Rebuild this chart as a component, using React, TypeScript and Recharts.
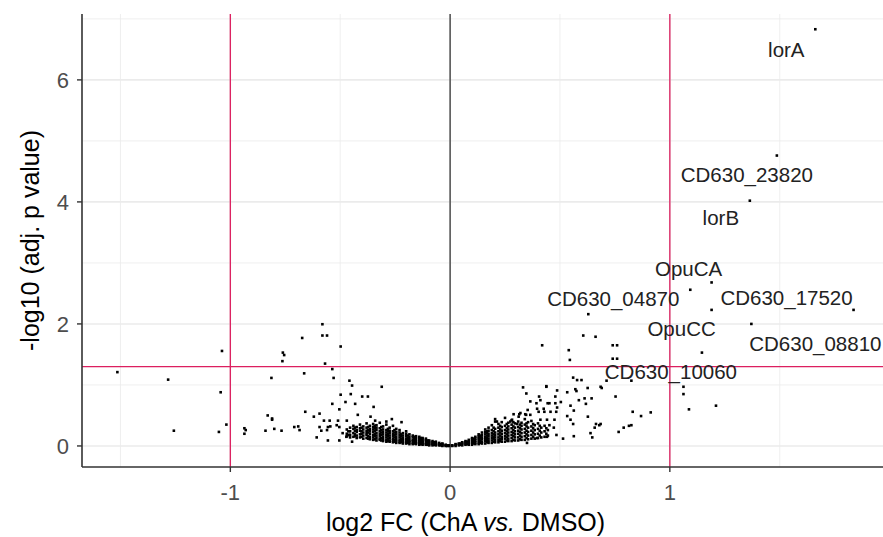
import React from 'react';
import { ScatterChart, Scatter, XAxis, YAxis, CartesianGrid, ReferenceLine } from 'recharts';

// log2 FC, -log10 adj. p
const leftOutliers: [number, number][] = [
  [-1.514, 1.21], [-1.283, 1.087], [-1.038, 1.557], [-1.044, 0.88], [-1.257, 0.25], [-1.052, 0.23],
  [-1.018, 0.35], [-0.936, 0.2], [-0.93, 0.26], [-0.936, 0.29], [-0.84, 0.25], [-0.83, 0.5],
  [-0.81, 0.45], [-0.81, 0.43], [-0.8, 0.28], [-0.813, 1.115], [-0.581, 1.995], [-0.581, 1.81],
  [-0.56, 1.81], [-0.673, 1.77], [-0.498, 1.63], [-0.761, 1.53], [-0.755, 1.49], [-0.763, 1.39],
  [-0.569, 1.35], [-0.536, 1.26], [-0.664, 1.19], [-0.53, 1.115], [-0.458, 1.07], [-0.446, 0.99],
  [-0.311, 0.97], [-0.498, 0.84], [-0.452, 0.85], [-0.4, 0.81], [-0.374, 0.81], [-0.536, 0.69],
  [-0.476, 0.72], [-0.432, 0.69], [-0.348, 0.64], [-0.504, 0.6], [-0.659, 0.56], [-0.594, 0.53],
  [-0.62, 0.48], [-0.42, 0.51], [-0.362, 0.48], [-0.574, 0.415], [-0.548, 0.415], [-0.51, 0.415],
  [-0.47, 0.415], [-0.341, 0.415], [-0.265, 0.44], [-0.221, 0.39], [-0.594, 0.31], [-0.586, 0.25],
  [-0.556, 0.31], [-0.545, 0.32], [-0.56, 0.26], [-0.516, 0.34], [-0.504, 0.31], [-0.767, 0.25],
  [-0.709, 0.31], [-0.691, 0.32], [-0.685, 0.26], [-0.607, 0.14], [-0.556, 0.09], [-0.504, 0.09],
  [-0.489, 0.21], [-0.472, 0.15], [-0.457, 0.18], [-0.446, 0.07],
];

const leftCore: [number, number][] = [
  [-0.47, 0.2], [-0.47, 0.27], [-0.47, 0.16],
  [-0.455, 0.18], [-0.455, 0.24], [-0.455, 0.3], [-0.455, 0.14],
  [-0.44, 0.15], [-0.44, 0.21], [-0.44, 0.28], [-0.44, 0.33],
  [-0.425, 0.17], [-0.425, 0.23], [-0.425, 0.26], [-0.425, 0.31], [-0.425, 0.13],
  [-0.41, 0.14], [-0.41, 0.19], [-0.41, 0.25], [-0.41, 0.29], [-0.41, 0.35],
  [-0.395, 0.12], [-0.395, 0.17], [-0.395, 0.22], [-0.395, 0.27], [-0.395, 0.32],
  [-0.38, 0.13], [-0.38, 0.18], [-0.38, 0.21], [-0.38, 0.25], [-0.38, 0.3], [-0.38, 0.37],
  [-0.365, 0.11], [-0.365, 0.15], [-0.365, 0.2], [-0.365, 0.24], [-0.365, 0.28], [-0.365, 0.33],
  [-0.35, 0.1], [-0.35, 0.14], [-0.35, 0.18], [-0.35, 0.23], [-0.35, 0.27], [-0.35, 0.31], [-0.35, 0.36],
  [-0.335, 0.09], [-0.335, 0.13], [-0.335, 0.17], [-0.335, 0.21], [-0.335, 0.26], [-0.335, 0.3], [-0.335, 0.34],
  [-0.32, 0.1], [-0.32, 0.12], [-0.32, 0.16], [-0.32, 0.2], [-0.32, 0.24], [-0.32, 0.29], [-0.32, 0.38],
  [-0.305, 0.08], [-0.305, 0.11], [-0.305, 0.15], [-0.305, 0.19], [-0.305, 0.23], [-0.305, 0.27], [-0.305, 0.32],
  [-0.29, 0.07], [-0.29, 0.1], [-0.29, 0.14], [-0.29, 0.18], [-0.29, 0.22], [-0.29, 0.26], [-0.29, 0.35], [-0.29, 0.4],
  [-0.275, 0.07], [-0.275, 0.09], [-0.275, 0.13], [-0.275, 0.17], [-0.275, 0.21], [-0.275, 0.25], [-0.275, 0.3],
  [-0.26, 0.06], [-0.26, 0.09], [-0.26, 0.12], [-0.26, 0.16], [-0.26, 0.2], [-0.26, 0.24], [-0.26, 0.33],
  [-0.245, 0.05], [-0.245, 0.08], [-0.245, 0.11], [-0.245, 0.15], [-0.245, 0.19], [-0.245, 0.23], [-0.245, 0.28],
  [-0.23, 0.05], [-0.23, 0.07], [-0.23, 0.1], [-0.23, 0.14], [-0.23, 0.18], [-0.23, 0.22], [-0.23, 0.26],
  [-0.215, 0.04], [-0.215, 0.07], [-0.215, 0.1], [-0.215, 0.13], [-0.215, 0.17], [-0.215, 0.21],
  [-0.2, 0.04], [-0.2, 0.06], [-0.2, 0.09], [-0.2, 0.12], [-0.2, 0.16], [-0.2, 0.2], [-0.2, 0.24],
  [-0.185, 0.03], [-0.185, 0.06], [-0.185, 0.08], [-0.185, 0.11], [-0.185, 0.15], [-0.185, 0.19],
  [-0.17, 0.03], [-0.17, 0.05], [-0.17, 0.08], [-0.17, 0.1], [-0.17, 0.14], [-0.17, 0.17],
  [-0.155, 0.03], [-0.155, 0.05], [-0.155, 0.07], [-0.155, 0.1], [-0.155, 0.13], [-0.155, 0.16],
  [-0.14, 0.02], [-0.14, 0.04], [-0.14, 0.07], [-0.14, 0.09], [-0.14, 0.12], [-0.14, 0.15],
  [-0.125, 0.02], [-0.125, 0.04], [-0.125, 0.06], [-0.125, 0.08], [-0.125, 0.11], [-0.125, 0.13],
  [-0.11, 0.02], [-0.11, 0.03], [-0.11, 0.05], [-0.11, 0.08], [-0.11, 0.1], [-0.11, 0.12],
  [-0.095, 0.01], [-0.095, 0.03], [-0.095, 0.05], [-0.095, 0.07], [-0.095, 0.09],
  [-0.08, 0.01], [-0.08, 0.03], [-0.08, 0.04], [-0.08, 0.06], [-0.08, 0.08],
  [-0.065, 0.01], [-0.065, 0.02], [-0.065, 0.04], [-0.065, 0.05], [-0.065, 0.07],
  [-0.05, 0.01], [-0.05, 0.02], [-0.05, 0.03], [-0.05, 0.05],
  [-0.035, 0.0], [-0.035, 0.01], [-0.035, 0.03], [-0.035, 0.04],
  [-0.02, 0.0], [-0.02, 0.01], [-0.02, 0.02], [-0.005, 0.0], [-0.005, 0.01],
];

// extra genes sitting between the columns above (the core reads as solid black)
const leftCoreFill: [number, number][] = [
  [-0.463, 0.18], [-0.463, 0.24],
  [-0.433, 0.16], [-0.433, 0.19], [-0.433, 0.25], [-0.433, 0.3],
  [-0.403, 0.15], [-0.403, 0.2], [-0.403, 0.24], [-0.403, 0.3],
  [-0.373, 0.12], [-0.373, 0.16], [-0.373, 0.22], [-0.373, 0.26], [-0.373, 0.31],
  [-0.343, 0.11], [-0.343, 0.16], [-0.343, 0.2], [-0.343, 0.25], [-0.343, 0.29], [-0.343, 0.33],
  [-0.313, 0.09], [-0.313, 0.13], [-0.313, 0.18], [-0.313, 0.22], [-0.313, 0.26], [-0.313, 0.31],
  [-0.283, 0.08], [-0.283, 0.12], [-0.283, 0.16], [-0.283, 0.2], [-0.283, 0.24], [-0.283, 0.28],
  [-0.253, 0.07], [-0.253, 0.1], [-0.253, 0.14], [-0.253, 0.18], [-0.253, 0.22], [-0.253, 0.26],
  [-0.223, 0.06], [-0.223, 0.09], [-0.223, 0.12], [-0.223, 0.16], [-0.223, 0.19],
  [-0.193, 0.05], [-0.193, 0.07], [-0.193, 0.1], [-0.193, 0.13], [-0.193, 0.17],
  [-0.163, 0.04], [-0.163, 0.06], [-0.163, 0.09], [-0.163, 0.12], [-0.163, 0.15],
  [-0.133, 0.03], [-0.133, 0.05], [-0.133, 0.08], [-0.133, 0.1], [-0.133, 0.13],
  [-0.103, 0.02], [-0.103, 0.04], [-0.103, 0.06], [-0.103, 0.09],
  [-0.073, 0.02], [-0.073, 0.03], [-0.073, 0.05], [-0.073, 0.06],
  [-0.043, 0.01], [-0.043, 0.02], [-0.043, 0.03], [-0.013, 0.0], [-0.013, 0.01],
];

const rightCore: [number, number][] = [
  [0.01, 0.0], [0.01, 0.01], [0.025, 0.0], [0.025, 0.02], [0.025, 0.03],
  [0.04, 0.01], [0.04, 0.03], [0.04, 0.04],
  [0.055, 0.01], [0.055, 0.03], [0.055, 0.05], [0.055, 0.06],
  [0.07, 0.02], [0.07, 0.04], [0.07, 0.06], [0.07, 0.08],
  [0.085, 0.02], [0.085, 0.05], [0.085, 0.07], [0.085, 0.1],
  [0.1, 0.02], [0.1, 0.05], [0.1, 0.08], [0.1, 0.11], [0.1, 0.13],
  [0.115, 0.03], [0.115, 0.06], [0.115, 0.09], [0.115, 0.12], [0.115, 0.15],
  [0.13, 0.03], [0.13, 0.06], [0.13, 0.1], [0.13, 0.13], [0.13, 0.16], [0.13, 0.19],
  [0.145, 0.04], [0.145, 0.07], [0.145, 0.11], [0.145, 0.14], [0.145, 0.18], [0.145, 0.22],
  [0.16, 0.04], [0.16, 0.08], [0.16, 0.11], [0.16, 0.15], [0.16, 0.19], [0.16, 0.23], [0.16, 0.27],
  [0.175, 0.05], [0.175, 0.08], [0.175, 0.12], [0.175, 0.16], [0.175, 0.2], [0.175, 0.25], [0.175, 0.3],
  [0.19, 0.05], [0.19, 0.09], [0.19, 0.13], [0.19, 0.17], [0.19, 0.21], [0.19, 0.26], [0.19, 0.34],
  [0.205, 0.06], [0.205, 0.1], [0.205, 0.14], [0.205, 0.18], [0.205, 0.22], [0.205, 0.28], [0.205, 0.4], [0.205, 0.44],
  [0.22, 0.06], [0.22, 0.1], [0.22, 0.14], [0.22, 0.19], [0.22, 0.24], [0.22, 0.3], [0.22, 0.36],
  [0.235, 0.07], [0.235, 0.11], [0.235, 0.15], [0.235, 0.2], [0.235, 0.25], [0.235, 0.31], [0.235, 0.39],
  [0.25, 0.07], [0.25, 0.12], [0.25, 0.16], [0.25, 0.21], [0.25, 0.26], [0.25, 0.33], [0.25, 0.46],
  [0.265, 0.08], [0.265, 0.12], [0.265, 0.17], [0.265, 0.22], [0.265, 0.27], [0.265, 0.32], [0.265, 0.38],
  [0.28, 0.08], [0.28, 0.13], [0.28, 0.18], [0.28, 0.23], [0.28, 0.29], [0.28, 0.35], [0.28, 0.42],
  [0.295, 0.09], [0.295, 0.14], [0.295, 0.19], [0.295, 0.24], [0.295, 0.3], [0.295, 0.37],
  [0.31, 0.09], [0.31, 0.14], [0.31, 0.2], [0.31, 0.25], [0.31, 0.31], [0.31, 0.4],
  [0.325, 0.1], [0.325, 0.15], [0.325, 0.21], [0.325, 0.27], [0.325, 0.33], [0.325, 0.38],
  [0.34, 0.1], [0.34, 0.16], [0.34, 0.22], [0.34, 0.28], [0.34, 0.35], [0.34, 0.44],
  [0.355, 0.11], [0.355, 0.17], [0.355, 0.23], [0.355, 0.3], [0.355, 0.39],
  [0.37, 0.12], [0.37, 0.18], [0.37, 0.25], [0.37, 0.32], [0.37, 0.41],
  [0.385, 0.12], [0.385, 0.19], [0.385, 0.26], [0.385, 0.34],
  [0.4, 0.13], [0.4, 0.2], [0.4, 0.28], [0.4, 0.37],
  [0.415, 0.14], [0.415, 0.22], [0.415, 0.3], [0.43, 0.15], [0.43, 0.24], [0.43, 0.33],
  [0.445, 0.17], [0.445, 0.26],
];

const rightCoreFill: [number, number][] = [
  [0.048, 0.02], [0.048, 0.04],
  [0.078, 0.03], [0.078, 0.05], [0.078, 0.07],
  [0.108, 0.04], [0.108, 0.07], [0.108, 0.1], [0.108, 0.12],
  [0.138, 0.05], [0.138, 0.08], [0.138, 0.12], [0.138, 0.15], [0.138, 0.17],
  [0.168, 0.06], [0.168, 0.1], [0.168, 0.13], [0.168, 0.17], [0.168, 0.21], [0.168, 0.24],
  [0.198, 0.07], [0.198, 0.11], [0.198, 0.15], [0.198, 0.19], [0.198, 0.24], [0.198, 0.3],
  [0.228, 0.08], [0.228, 0.12], [0.228, 0.17], [0.228, 0.22], [0.228, 0.27], [0.228, 0.33],
  [0.258, 0.09], [0.258, 0.14], [0.258, 0.19], [0.258, 0.24], [0.258, 0.29], [0.258, 0.36],
  [0.288, 0.1], [0.288, 0.16], [0.288, 0.21], [0.288, 0.26], [0.288, 0.32], [0.288, 0.39],
  [0.318, 0.11], [0.318, 0.17], [0.318, 0.23], [0.318, 0.29], [0.318, 0.35],
  [0.348, 0.13], [0.348, 0.19], [0.348, 0.25], [0.348, 0.32], [0.348, 0.37],
  [0.378, 0.15], [0.378, 0.22], [0.378, 0.29], [0.378, 0.36],
  [0.408, 0.17], [0.408, 0.25], [0.408, 0.33], [0.438, 0.2], [0.438, 0.29],
];

const rightOutliers: [number, number][] = [
  [0.629, 2.16], [0.606, 1.81], [0.662, 1.79], [0.419, 1.65], [0.54, 1.57], [0.74, 1.65], [0.76, 1.65],
  [0.545, 1.41], [0.74, 1.43], [0.76, 1.43], [0.56, 1.12], [0.578, 1.08], [0.598, 1.08], [0.825, 1.07],
  [0.712, 1.07], [0.57, 0.93], [0.575, 0.9], [0.626, 0.95], [0.69, 0.95], [0.685, 0.97], [0.533, 0.88],
  [0.487, 0.91], [0.438, 0.97], [0.332, 0.96], [0.347, 0.86], [0.479, 0.81], [0.504, 0.72], [0.405, 0.81],
  [0.411, 0.75], [0.586, 0.75], [0.612, 0.78], [0.644, 0.78], [0.618, 0.69], [0.753, 0.81], [0.393, 0.7],
  [0.444, 0.7], [0.479, 0.7], [0.548, 0.66], [0.563, 0.58], [0.831, 0.56], [0.869, 0.49], [0.913, 0.55],
  [0.627, 0.48], [0.664, 0.36], [0.679, 0.34], [0.658, 0.3], [0.825, 0.34], [0.814, 0.33], [0.767, 0.23],
  [0.647, 0.14], [0.639, 0.21], [0.563, 0.16], [0.514, 0.12], [0.452, 0.34], [0.472, 0.3], [0.411, 0.43],
  [0.441, 0.43], [0.475, 0.43], [0.346, 0.51], [0.365, 0.51], [0.312, 0.48], [0.429, 0.56], [0.457, 0.56],
  [0.483, 0.56], [0.396, 0.61], [0.426, 0.61], [0.487, 0.63], [0.533, 0.49], [0.548, 0.43], [0.56, 0.36],
  [0.282, 0.43], [0.305, 0.36], [0.32, 0.54], [0.353, 0.59], [0.365, 0.73], [0.35, 0.05], [0.396, 0.13],
  [0.441, 0.15], [0.484, 0.18], [0.685, 0.36], [1.062, 0.97], [1.062, 0.85], [1.087, 0.6], [1.21, 0.66],
  [0.289, 0.52], [0.315, 0.52], [0.342, 0.52], [0.213, 0.4], [0.274, 0.4], [0.403, 0.56], [0.438, 0.98],
  [0.452, 0.7], [0.79, 0.3],
];

const genes = ['lorA', 'CD630_23820', 'lorB', 'OpuCA', 'CD630_04870', 'CD630_17520', 'OpuCC', 'CD630_08810', 'CD630_10060'];
const geneFC = [1.662, 1.487, 1.364, 1.19, 1.093, 1.836, 1.19, 1.371, 1.146];
const geneP = [6.83, 4.76, 4.02, 2.68, 2.56, 2.23, 2.23, 2.0, 1.53];

// label placement (px, relative to the point), like ggrepel put them
const labelDX = [-29, -30, -29, -23, -77, -67, -30, 64, -31];
const labelDY = [20, 19, 17, -14, 9, -12, 19, 20, 19];

const xTicks = [-1, 0, 1];
const yTicks = [0, 2, 4, 6];

const FONT = 'Arial, "Liberation Sans", sans-serif';
const RED = '#dc1f5f';

const toPoints = (arr: [number, number][]) => arr.map(([fc, p]) => ({ fc, p }));

const points = [
  ...toPoints(leftOutliers),
  ...toPoints(leftCore),
  ...toPoints(leftCoreFill),
  ...toPoints(rightCore),
  ...toPoints(rightCoreFill),
  ...toPoints(rightOutliers),
];

const genePoints = genes.map((name, i) => ({ fc: geneFC[i], p: geneP[i], name, dx: labelDX[i], dy: labelDY[i] }));

const Dot = (props: any) => {
  const { cx, cy } = props;
  if (cx == null || cy == null) return null;
  return <rect x={cx - 1.3} y={cy - 1.3} width={2.6} height={2.6} fill="#000" />;
};

const LabelledDot = (props: any) => {
  const { cx, cy, payload } = props;
  if (cx == null || cy == null) return null;
  return (
    <g>
      <rect x={cx - 1.3} y={cy - 1.3} width={2.6} height={2.6} fill="#000" />
      <text
        x={cx + payload.dx}
        y={cy + payload.dy}
        textAnchor="middle"
        dominantBaseline="central"
        fontFamily={FONT}
        fontSize={20.5}
        fill="#222"
      >
        {payload.name}
      </text>
    </g>
  );
};

const XTitle = (props: any) => {
  const { viewBox } = props;
  const cx = viewBox.x + viewBox.width / 2 - 17;
  return (
    <text x={cx} y={531} textAnchor="middle" fontFamily={FONT} fontSize={25} fill="#000">
      log2 FC (ChA <tspan fontStyle="italic">vs.</tspan> DMSO)
    </text>
  );
};

const YTitle = (props: any) => {
  const { viewBox } = props;
  const cy = viewBox.y + viewBox.height / 2;
  const x = 30;
  return (
    <text
      x={x}
      y={cy}
      textAnchor="middle"
      dominantBaseline="central"
      transform={`rotate(-90, ${x}, ${cy})`}
      fontFamily={FONT}
      fontSize={25}
      fill="#000"
    >
      -log10 (adj. p value)
    </text>
  );
};

export default function App() {
  return (
    <div style={{ position: 'absolute', left: 0, top: 0, width: 883, height: 537, background: '#fff' }}>
      <ScatterChart width={883} height={537} margin={{ top: 14, right: 0, bottom: 0, left: 0 }}>
        <CartesianGrid
          stroke="#ebebeb"
          strokeWidth={0.8}
          horizontalValues={[1, 3, 5, 7]}
          verticalValues={[-1.5, -0.5, 0.5, 1.5]}
        />
        <CartesianGrid
          stroke="#ebebeb"
          strokeWidth={1.6}
          horizontalValues={[0, 2, 4, 6]}
          verticalValues={[-1, 0, 1]}
        />
        <XAxis
          type="number"
          dataKey="fc"
          domain={[-1.675, 1.97]}
          ticks={xTicks}
          allowDataOverflow
          height={70}
          tickSize={5}
          tickMargin={12}
          axisLine={{ stroke: '#333', strokeWidth: 1.6 }}
          tickLine={{ stroke: '#333', strokeWidth: 1.4 }}
          tick={{ fill: '#4d4d4d', fontSize: 22, fontFamily: FONT }}
          label={<XTitle />}
        />
        <YAxis
          type="number"
          dataKey="p"
          domain={[-0.345, 7.08]}
          ticks={yTicks}
          allowDataOverflow
          width={82}
          tickSize={5}
          tickMargin={8}
          axisLine={{ stroke: '#333', strokeWidth: 1.6 }}
          tickLine={{ stroke: '#333', strokeWidth: 1.4 }}
          tick={{ fill: '#4d4d4d', fontSize: 22, fontFamily: FONT }}
          label={<YTitle />}
        />
        <ReferenceLine x={0} stroke="#000" strokeWidth={1} />
        <ReferenceLine x={-1} stroke={RED} strokeWidth={1.3} />
        <ReferenceLine x={1} stroke={RED} strokeWidth={1.3} />
        <ReferenceLine y={1.301} stroke={RED} strokeWidth={1.3} />
        <Scatter data={points} shape={<Dot />} isAnimationActive={false} />
        <Scatter data={genePoints} shape={<LabelledDot />} isAnimationActive={false} />
      </ScatterChart>
    </div>
  );
}
